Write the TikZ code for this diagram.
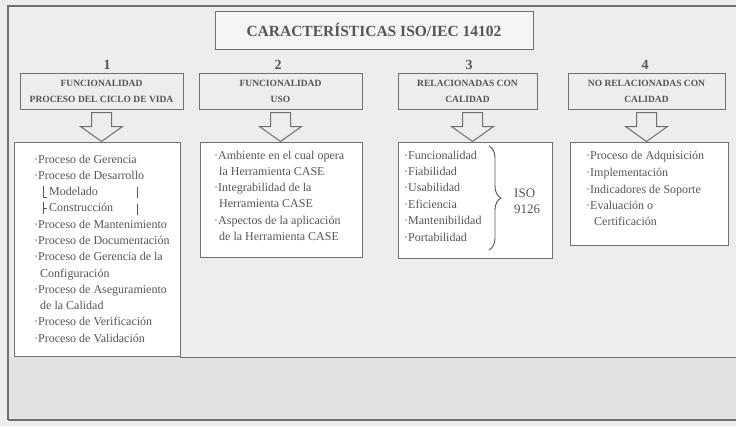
\documentclass[tikz,border=0pt]{standalone}
\usepackage{fontspec}
\setmainfont{Liberation Serif}
\usetikzlibrary{decorations.pathreplacing,calc}
\definecolor{ink}{HTML}{555555}
\definecolor{edge}{HTML}{707070}
\definecolor{paper}{HTML}{EDEDED}
\definecolor{lowband}{HTML}{E2E2E2}
\tikzset{
  frameline/.style={draw=edge, line width=1.1pt},
  titlebox/.style={draw=edge, line width=1pt, fill=black!4, minimum width=318pt, minimum height=38pt, inner sep=0pt, text=ink, font=\bfseries\fontsize{15.5}{18}\selectfont},
  hdrbox/.style={draw=edge, line width=1pt, minimum height=36pt, inner sep=0pt, align=center, text=ink, font=\bfseries\fontsize{9.5}{16}\selectfont},
  numlabel/.style={text=ink, inner sep=0pt, font=\bfseries\fontsize{14}{14}\selectfont},
  cbox/.style={draw=edge, line width=1pt, fill=white, anchor=north west, inner sep=0pt},
  item/.style={anchor=west, inner sep=0pt, text=ink, text height=8pt, text depth=2.5pt, font=\fontsize{12}{14}\selectfont},
  arrline/.style={draw=edge, line width=1pt, fill=paper},
  downarrow/.pic={\path[arrline] (-10,3) -- (-10,17) -- (-21,17) -- (0,32) -- (21,17) -- (10,17) -- (10,3) -- cycle;},
  treeline/.style={draw=ink, line width=0.7pt}
}
\begin{document}
\begin{tikzpicture}[x=1pt,y=-1pt]
\useasboundingbox (0,0) rectangle (736,426);
% page background
\fill[paper] (0,0) rectangle (736,426);
\fill[lowband] (8,357) rectangle (736,420);
% outer frame
\draw[frameline] (8,420) -- (8,6) -- (736,6);
\draw[frameline] (8,420) -- (736,420);
\draw[draw=edge, line width=0.8pt] (180,357) -- (736,357);

% title
\node[titlebox] (title) at (374,30) {CARACTERÍSTICAS ISO/IEC 14102};

% numbers
\node[numlabel] (n1) at (107,65) {1};
\node[numlabel] (n2) at (278,65) {2};
\node[numlabel] (n3) at (469,65) {3};
\node[numlabel] (n4) at (645,65) {4};

% header boxes
\node[hdrbox, minimum width=163pt] (h1) at (101.5,91) {FUNCIONALIDAD\\PROCESO DEL CICLO DE VIDA};
\node[hdrbox, minimum width=163pt] (h2) at (280.5,91) {FUNCIONALIDAD\\USO};
\node[hdrbox, minimum width=139pt] (h3) at (467.5,91) {RELACIONADAS CON\\CALIDAD};
\node[hdrbox, minimum width=157pt] (h4) at (646.5,91) {NO RELACIONADAS CON\\CALIDAD};

% block arrows
\pic at (h1.south) {downarrow};
\pic at (h2.south) {downarrow};
\pic at ($(h3.south)+(5,0)$) {downarrow};
\pic at (h4.south) {downarrow};

% content boxes
\node[cbox, minimum width=166pt, minimum height=214pt] (c1) at (14,142) {};
\node[cbox, minimum width=162pt, minimum height=115pt] (c2) at (200,142) {};
\node[cbox, minimum width=154pt, minimum height=116pt] (c3) at (398,142) {};
\node[cbox, minimum width=158pt, minimum height=103pt] (c4) at (570,142) {};

% box 1 items
\node[item] (a1) at (34,161) {·Proceso de Gerencia};
\node[item] (a2) at (34,177) {·Proceso de Desarrollo};
\node[item] (a3) at (49,193) {Modelado};
\node[item] (a4) at (49,209) {Construcción};
\node[item] (a5) at (34,226) {·Proceso de Mantenimiento};
\node[item] (a6) at (34,242) {·Proceso de Documentación};
\node[item] (a7) at (34,258) {·Proceso de Gerencia de la};
\node[item] (a8) at (40,275) {Configuración};
\node[item] (a9) at (34,291) {·Proceso de Aseguramiento};
\node[item] (a10) at (40,307) {de la Calidad};
\node[item] (a11) at (34,323) {·Proceso de Verificación};
\node[item] (a12) at (34,340) {·Proceso de Validación};
\draw[treeline] (43,186) -- (43,197) -- (47,197);
\draw[treeline] (43,202) -- (43,214) (43,208) -- (47,208);
\draw[treeline] (137,187) -- (137,198);
\draw[treeline] (137,204) -- (137,215);

% box 2 items
\node[item] (b1) at (214,157) {·Ambiente en el cual opera};
\node[item] (b2) at (219,173) {la Herramienta CASE};
\node[item] (b3) at (214,189) {·Integrabilidad de la};
\node[item] (b4) at (219,205) {Herramienta CASE};
\node[item] (b5) at (214,222) {·Aspectos de la aplicación};
\node[item] (b6) at (219,238) {de la Herramienta CASE};

% box 3 items
\node[item] (q1) at (404,157) {·Funcionalidad};
\node[item] (q2) at (404,173) {·Fiabilidad};
\node[item] (q3) at (404,189) {·Usabilidad};
\node[item] (q4) at (404,206) {·Eficiencia};
\node[item] (q5) at (404,222) {·Mantenibilidad};
\node[item] (q6) at (404,239) {·Portabilidad};
\coordinate (bt) at (489,146);
\coordinate (bb) at (489,250);
\draw[draw=ink, line width=0.9pt, decorate, decoration={brace, amplitude=12pt}] (bt) -- (bb);
\node[item, font=\fontsize{13}{15}\selectfont] (iso1) at (514,195) {ISO};
\node[item, font=\fontsize{13}{15}\selectfont] (iso2) at (514,211) {9126};

% box 4 items
\node[item] (d1) at (586,157) {·Proceso de Adquisición};
\node[item] (d2) at (586,174) {·Implementación};
\node[item] (d3) at (586,191) {·Indicadores de Soporte};
\node[item] (d4) at (586,207) {·Evaluación o};
\node[item] (d5) at (594,223) {Certificación};
\end{tikzpicture}
\end{document}
